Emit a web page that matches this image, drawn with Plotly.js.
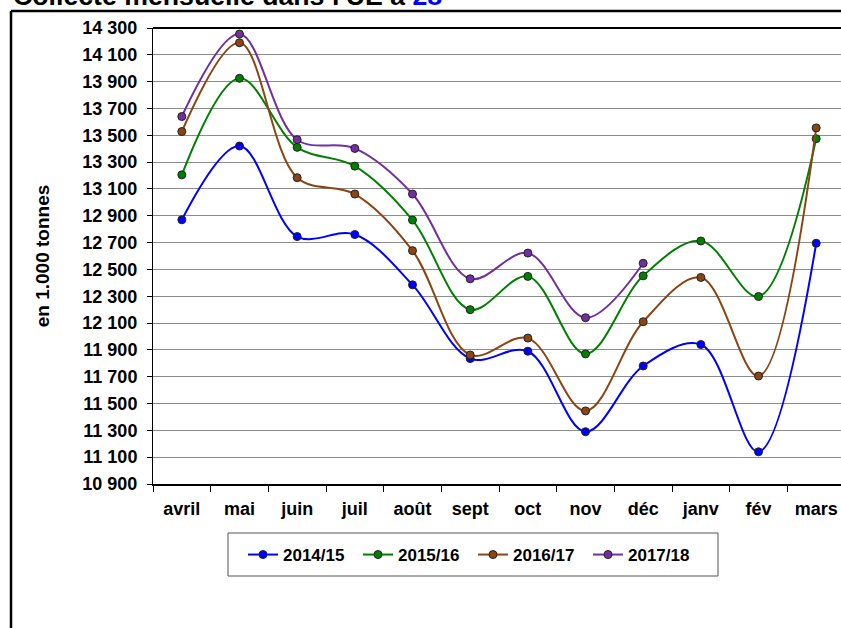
<!DOCTYPE html>
<html>
<head>
<meta charset="utf-8">
<script src="https://cdn.plot.ly/plotly-3.0.1.min.js"></script>
<style>html,body{margin:0;padding:0;background:#fff;}#chart{width:841px;height:628px;}</style>
</head>
<body>
<div id="chart"></div>
<script>
var months = ["avril","mai","juin","juil","août","sept","oct","nov","déc","janv","fév","mars"];
var s2014 = [12870, 13420, 12745, 12760, 12385, 11835, 11890, 11290, 11780, 11940, 11140, 12695];
var s2015 = [13205, 13925, 13410, 13270, 12868, 12200, 12448, 11870, 12452, 12712, 12298, 13475];
var s2016 = [13528, 14190, 13184, 13062, 12640, 11862, 11988, 11445, 12110, 12440, 11705, 13555];
var s2017 = [13640, 14255, 13467, 13402, 13062, 12430, 12622, 12140, 12546, null, null, null];
var seriesNames = ["2014/15","2015/16","2016/17","2017/18"];
var colors = ["#0000FF","#008000","#8B4513","#7030A0"];
var yTicks = [10900,11100,11300,11500,11700,11900,12100,12300,12500,12700,12900,13100,13300,13500,13700,13900,14100,14300];

var FONT = "Liberation Sans, Arial, sans-serif";
var data = [s2014, s2015, s2016, s2017].map(function(v, i){
  return {
    type: "scatter", mode: "lines+markers", x: months, y: v, name: seriesNames[i],
    line: {color: colors[i], width: 2, shape: "spline", smoothing: 1},
    marker: {color: colors[i], size: 8, line: {color: "#222", width: 1}},
    connectgaps: false, cliponaxis: false
  };
});

var PW = 688, PH = 456;
var layout = {
  width: 841, height: 628,
  margin: {l: 153, r: 0, t: 28, b: 144, pad: 0},
  paper_bgcolor: "#fff", plot_bgcolor: "#fff",
  separators: ", ",
  showlegend: true,
  title: {
    text: "Collecte mensuelle dans l'UE à <span style='color:#0000FF'>28</span>",
    x: 13/841, xanchor: "left", xref: "container",
    y: 1 - 5/628, yanchor: "bottom", yref: "container",
    font: {family: FONT, size: 26.7, weight: "bold", color: "#000"}
  },
  xaxis: {
    type: "category", range: [-0.5, 11.43], tickson: "boundaries",
    ticks: "outside", ticklen: 6, tickcolor: "#000", tickwidth: 1,
    ticklabelstandoff: 7,
    showline: true, linecolor: "#000", linewidth: 2,
    showgrid: false, zeroline: false, fixedrange: true,
    tickfont: {family: FONT, size: 18, weight: "bold", color: "#000"}
  },
  yaxis: {
    range: [10900, 14300], tickvals: yTicks, tickformat: ",d",
    ticks: "outside", ticklen: 5, tickcolor: "#000", tickwidth: 1,
    ticklabelstandoff: 6,
    showline: true, linecolor: "#000", linewidth: 1,
    showgrid: true, gridcolor: "#8c8c8c", gridwidth: 1, zeroline: false,
    tickfont: {family: FONT, size: 18, weight: "bold", color: "#000"},
    title: {text: "en 1.000 tonnes", standoff: 27, font: {family: FONT, size: 19, weight: "bold", color: "#000"}},
    automargin: false, fixedrange: true
  },
  legend: {
    orientation: "h", x: (243-153)/PW, xanchor: "left", y: (484-537)/PH, yanchor: "top",
    borderwidth: 0, bgcolor: "rgba(0,0,0,0)",
    font: {family: FONT, size: 17, weight: "bold", color: "#000"},
    entrywidth: 70, entrywidthmode: "pixels"
  },
  shapes: [
    {type: "line", xref: "paper", yref: "paper", x0: 0, x1: 1.01, y0: 1, y1: 1, line: {color: "#000", width: 2}},
    {type: "line", xref: "paper", yref: "paper", x0: -0.2064, x1: -0.2064, y0: 1.0373, y1: -0.4, line: {color: "#000", width: 2.5}},
    {type: "line", xref: "paper", yref: "paper", x0: -0.2064, x1: 1.05, y0: 1.0373, y1: 1.0373, line: {color: "#000", width: 2.5}},
    {type: "rect", xref: "paper", yref: "paper", x0: (228-153)/PW, x1: (718-153)/PW, y0: (484-576)/PH, y1: (484-533)/PH,
     line: {color: "#555", width: 1}, fillcolor: "rgba(0,0,0,0)"}
  ]
};

Plotly.newPlot("chart", data, layout, {displayModeBar: false, staticPlot: true});
</script>
</body>
</html>
